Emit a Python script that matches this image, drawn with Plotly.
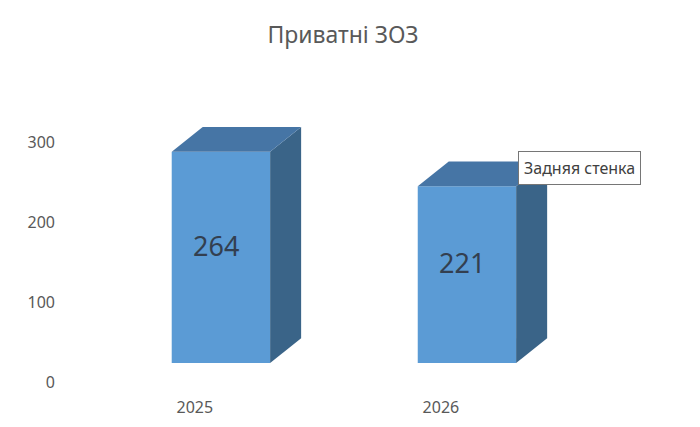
import plotly.graph_objects as go

# data
years = ["2025", "2026"]
counts = [264, 221]
y_ticks = [0, 100, 200, 300]
title_text = "Приватні ЗОЗ"
hover_label = "Задняя стенка"

FRONT = "#5B9BD5"
TOP = "#4675A5"
SIDE = "#3A6488"
TXT = "#595959"
FONT = "Noto Sans"

# page has an 8px body margin, so the figure is a bit smaller than the window
W, H = 692, 419
ML, MR, MT, MB = 54, 20, 92, 27

half = 0.2      # half bar width (category units)
dx = 0.126      # depth offset in x
dy = 31         # depth offset in y (value units)

xs = list(range(len(years)))

fig = go.Figure()

# front faces
fig.add_trace(go.Bar(
    x=xs, y=counts, width=2 * half, marker_color=FRONT, marker_line_width=0,
    hoverinfo="skip",
))

# side and top faces, built from the values
for x, v in zip(xs, counts):
    r = x + half
    l = x - half
    fig.add_trace(go.Scatter(
        x=[r, r + dx, r + dx, r, r], y=[0, dy, v + dy, v, 0],
        fill="toself", fillcolor=SIDE, mode="lines", line=dict(width=0),
        hoverinfo="skip"))
    fig.add_trace(go.Scatter(
        x=[l, l + dx, r + dx, r, l], y=[v, v + dy, v + dy, v, v],
        fill="toself", fillcolor=TOP, mode="lines", line=dict(width=0),
        hoverinfo="skip"))

# invisible trace that carries the label axes
fig.add_trace(go.Scatter(x=years, y=[None] * len(years), xaxis="x2", yaxis="y2",
                         mode="markers", showlegend=False, hoverinfo="skip"))

# value labels, centred on the box
value_labels = [dict(x=x - 0.02, y=(v + dy) / 2, text=str(v), showarrow=False,
                     font=dict(size=27, color="#333F50", family=FONT))
                for x, v in zip(xs, counts)]

pw = W - ML - MR
ph = H - MT - MB

fig.update_layout(
    width=W, height=H, showlegend=False,
    paper_bgcolor="white", plot_bgcolor="white",
    margin=dict(l=ML, r=MR, t=MT, b=MB, autoexpand=False),
    title=dict(text=title_text, x=335 / W, xanchor="center", y=1 - 27 / H,
               yanchor="middle", font=dict(size=23, color=TXT, family=FONT)),
    xaxis=dict(range=[-0.646, 1.866], showticklabels=False, showgrid=False,
               zeroline=False, showline=False, automargin=False),
    yaxis=dict(range=[-46.25, 328.75], showticklabels=False, showgrid=False,
               zeroline=False, showline=False, automargin=False),
    xaxis2=dict(overlaying="x", side="bottom", type="category", range=[-0.54, 1.972],
                anchor="free", position=4 / ph,
                showgrid=False, zeroline=False, showline=False, automargin=False,
                tickfont=dict(size=16, color=TXT, family=FONT)),
    yaxis2=dict(overlaying="y", side="left", range=[-22.5, 352.5], tickvals=y_ticks,
                ticklabelstandoff=6,
                showgrid=False, zeroline=False, showline=False, automargin=False,
                tickfont=dict(size=16, color=TXT, family=FONT)),
    font=dict(family=FONT),
    annotations=value_labels + [
        dict(text=hover_label, xref="paper", yref="paper",
             x=(510 - ML) / pw, xanchor="left", y=(H - MB - 160) / ph, yanchor="middle",
             showarrow=False, bgcolor="white", bordercolor="#767676",
             borderwidth=1, borderpad=5,
             font=dict(size=16, color="#404040", family=FONT))],
)

fig.write_html("out.html")
